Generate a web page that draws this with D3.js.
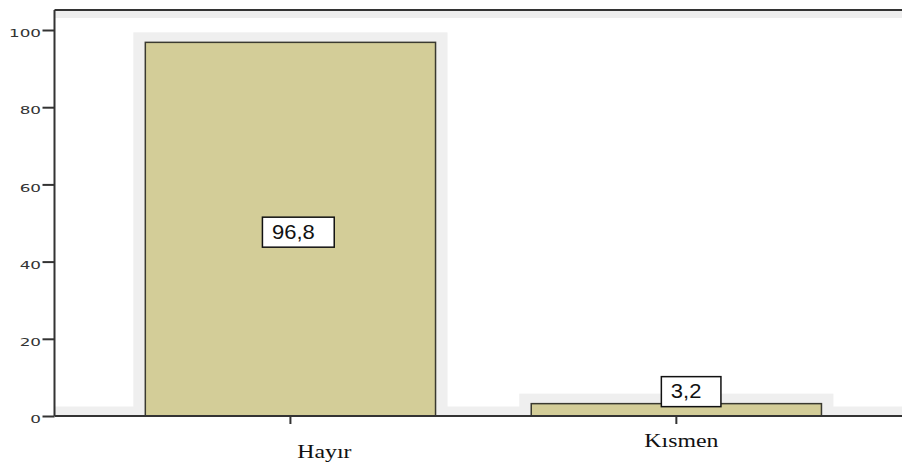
<!DOCTYPE html>
<html>
<head>
<meta charset="utf-8">
<script src="https://cdn.jsdelivr.net/npm/d3@7"></script>
<style>
  html, body { margin: 0; padding: 0; background: #fff; }
  svg { display: block; }
</style>
</head>
<body>
<svg id="chart" width="902" height="471"></svg>
<script>
// Answer categories and their percentages
const categories = ["Hayır", "Kısmen"];
const percents = [96.8, 3.2];
const valueLabels = ["96,8", "3,2"];
const yTicks = [0, 20, 40, 60, 80, 100];

const plotLeft = 54.5, plotRight = 902, plotTop = 10, plotBottom = 416;

const svg = d3.select("#chart");

const x = d3.scaleBand()
  .domain(categories)
  .range([plotLeft, plotRight])
  .paddingInner(0.248)
  .paddingOuter(0.222)
  .align(0.53);

const y = d3.scaleLinear().domain([0, 100]).range([plotBottom, 30]);

// light grey bands along the top and bottom of the plot frame
svg.append("rect").attr("x", plotLeft).attr("y", plotTop).attr("width", plotRight - plotLeft).attr("height", 8).attr("fill", "#eeeeee");
svg.append("rect").attr("x", plotLeft).attr("y", plotBottom - 9.5).attr("width", plotRight - plotLeft).attr("height", 9.5).attr("fill", "#efefef");

const data = categories.map((c, i) => ({ cat: c, v: percents[i], label: valueLabels[i] }));

// soft grey backdrop behind each bar
svg.selectAll("rect.bg").data(data).join("rect")
  .attr("class", "bg")
  .attr("x", d => x(d.cat) - 12)
  .attr("width", x.bandwidth() + 24)
  .attr("y", d => y(d.v) - 10)
  .attr("height", d => plotBottom - y(d.v) + 10)
  .attr("fill", "#efefef");

// bars
svg.selectAll("rect.bar").data(data).join("rect")
  .attr("class", "bar")
  .attr("x", d => x(d.cat))
  .attr("width", x.bandwidth())
  .attr("y", d => y(d.v))
  .attr("height", d => plotBottom - y(d.v))
  .attr("fill", "#d3cd98")
  .attr("stroke", "#3a3a30")
  .attr("stroke-width", 1.5);

// frame: top border
svg.append("line").attr("x1", plotLeft).attr("x2", plotRight).attr("y1", plotTop).attr("y2", plotTop)
  .attr("stroke", "#333").attr("stroke-width", 2);

// y axis
const yAxis = svg.append("g")
  .attr("transform", `translate(${plotLeft},0)`)
  .call(d3.axisLeft(y).tickValues(yTicks).tickSize(12).tickFormat(d3.format("d")));
yAxis.select(".domain").attr("d", `M0,${plotTop}V${plotBottom}`).attr("stroke", "#333").attr("stroke-width", 2);
yAxis.selectAll(".tick line").attr("stroke", "#333").attr("stroke-width", 2);
yAxis.selectAll(".tick text")
  .attr("x", 0).attr("dy", "0.36em")
  .attr("transform", "translate(-13.5,3) scale(1.68,1)")
  .attr("text-anchor", "end")
  .attr("fill", "#333")
  .style("font-family", "'DejaVu Sans', sans-serif")
  .style("font-size", "10px");

// x axis
const xAxis = svg.append("g")
  .attr("transform", `translate(0,${plotBottom})`)
  .call(d3.axisBottom(x).tickSize(8).tickSizeOuter(0));
xAxis.select(".domain").attr("d", `M${plotLeft},0H${plotRight}`).attr("stroke", "#333").attr("stroke-width", 2);
xAxis.selectAll(".tick line").attr("stroke", "#333").attr("stroke-width", 2);
// first label sits lower and to the right of its tick
const catShift = i => (i === 0 ? [34, 42] : [5, 30.7]);
xAxis.selectAll(".tick text")
  .attr("y", 0).attr("dy", 0)
  .attr("transform", (d, i) => `translate(${catShift(i)[0]},${catShift(i)[1]}) scale(1.22,1)`)
  .attr("text-anchor", "middle")
  .attr("fill", "#111")
  .style("font-family", "'Liberation Serif', 'Times New Roman', serif")
  .style("font-size", "19.5px");

// value labels in boxes: tall bars carry them inside, short bars above
const boxH = 30;
const lab = svg.selectAll("g.vlab").data(data).join("g").attr("class", "vlab")
  .attr("transform", d => {
    const cx = x(d.cat) + x.bandwidth() / 2;
    const inside = plotBottom - y(d.v) > 60;
    const bx = inside ? cx - 28 : cx - 15;
    const by = inside ? (y(d.v) + plotBottom) / 2 - 12 : y(d.v) - 27;
    return `translate(${bx},${by})`;
  });
lab.append("text")
  .attr("x", 0).attr("y", 21.5)
  .attr("transform", "translate(9.5,0) scale(1.1,1)")
  .attr("fill", "#111")
  .style("font-family", "'Liberation Sans', Arial, sans-serif")
  .style("font-size", "20px")
  .text(d => d.label)
  .each(function () {
    const w = this.getComputedTextLength() * 1.1;
    d3.select(this.parentNode).insert("rect", "text")
      .attr("x", 0).attr("y", 0)
      .attr("width", w + 29).attr("height", boxH)
      .attr("fill", "#fff")
      .attr("stroke", "#111")
      .attr("stroke-width", 1.5);
  });
</script>
</body>
</html>
